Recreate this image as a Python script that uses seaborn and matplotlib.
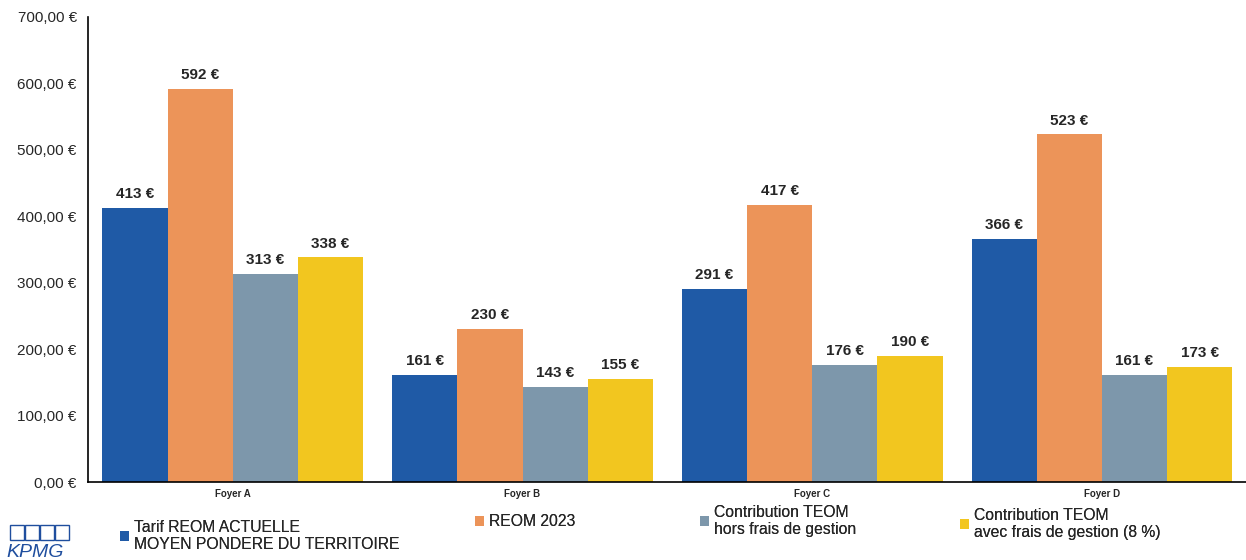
import matplotlib
matplotlib.use("Agg")
import matplotlib.pyplot as plt
import matplotlib.patches as mpatches
import pandas as pd
import seaborn as sns

# Households compared
foyers = ["Foyer A", "Foyer B", "Foyer C", "Foyer D"]

# Series labels
series = [
    "Tarif REOM ACTUELLE\nMOYEN PONDERE DU TERRITOIRE",
    "REOM 2023",
    "Contribution TEOM\nhors frais de gestion",
    "Contribution TEOM\navec frais de gestion (8 %)",
]

# Annual amounts in euros, one list per series
tarif_actuel = [413, 161, 291, 366]
reom_2023 = [592, 230, 417, 523]
teom_hors_frais = [313, 143, 176, 161]
teom_avec_frais = [338, 155, 190, 173]

y_ticks = [0, 100, 200, 300, 400, 500, 600, 700]

colors = ["#1f5aa6", "#ec9459", "#7d97ab", "#f2c61f"]

rows = []
for name, values in zip(series, [tarif_actuel, reom_2023, teom_hors_frais, teom_avec_frais]):
    for foyer, v in zip(foyers, values):
        rows.append({"Foyer": foyer, "Série": name, "Montant": v})
df = pd.DataFrame(rows)

sns.set_style("white")
plt.rcParams["font.family"] = ["Liberation Sans", "DejaVu Sans"]

fig = plt.figure(figsize=(12.46, 5.6), dpi=100)
ax = fig.add_axes([0.0706, 0.139, 0.93, 0.831])

sns.barplot(
    data=df, x="Foyer", y="Montant", hue="Série", order=foyers, hue_order=series,
    palette=colors, saturation=1, width=0.9, gap=0, ax=ax, legend=True,
    edgecolor="none",
)

ax.set_xlim(-0.5, 3.5)
ax.set_ylim(0, 700)
ax.set_yticks(y_ticks)
ax.set_yticklabels([f"{v:.2f}".replace(".", ",") + " €" for v in y_ticks], fontsize=11)
ax.set_xlabel("")
ax.set_ylabel("")

# Category names under each group, tick marks between groups
ax.set_xticks([0.5, 1.5, 2.5])
ax.set_xticklabels([])
ax.tick_params(axis="x", which="major", direction="out", length=5, width=1, color="black")
ax.tick_params(axis="y", direction="out", length=5, width=1, color="black", pad=3)
for i, f in enumerate(foyers):
    ax.text(i, -10, f, ha="center", va="top", fontsize=7, fontweight="bold")

for side in ["top", "right"]:
    ax.spines[side].set_visible(False)
for side in ["left", "bottom"]:
    ax.spines[side].set_color("black")
    ax.spines[side].set_linewidth(1.2)

for cont in ax.containers:
    ax.bar_label(cont, labels=[f"{v:.0f} €" for v in cont.datavalues],
                 padding=5, fontsize=11, fontweight="bold")

handles, labels = ax.get_legend_handles_labels()
ax.get_legend().remove()

# One legend entry per series, spread along the bottom
legend_anchors = [(120, 536), (475, 522), (700, 521), (960, 524)]
for h, lab, (px, py) in zip(handles, labels, legend_anchors):
    leg = fig.legend([h], [lab], loc="center left",
                     bbox_to_anchor=(px / 1246, 1 - py / 560),
                     frameon=False, fontsize=11.3, handlelength=0.6, handleheight=0.6,
                     handletextpad=0.3, borderpad=0, borderaxespad=0)
    fig.add_artist(leg)

# Logo in the lower-left corner
for k in range(4):
    fig.patches.append(mpatches.Rectangle((0.008 + k * 0.012, 0.036), 0.011, 0.026,
                                          transform=fig.transFigure, fill=False,
                                          edgecolor="#1f4e9e", linewidth=1))
fig.text(0.005, 0.006, "KPMG", color="#1f4e9e", fontsize=14, style="italic")

fig.savefig("out.png", dpi=100)
